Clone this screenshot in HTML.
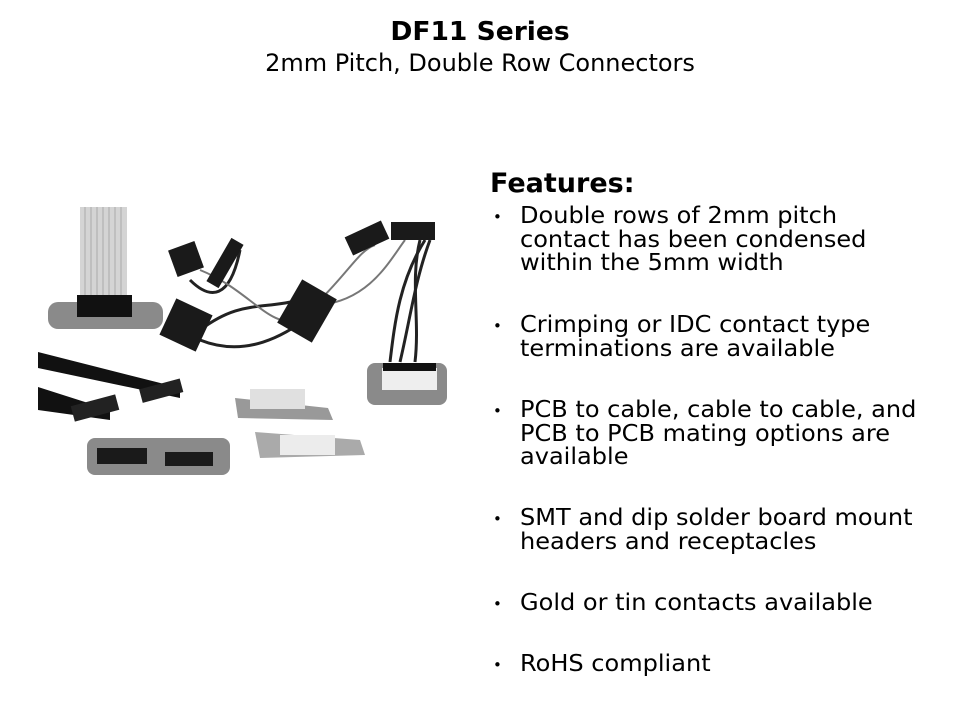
<!DOCTYPE html>
<html><head><style>
body{margin:0;width:960px;height:720px;background:#fff;font-family:"DejaVu Sans",sans-serif;color:#000;position:relative;overflow:hidden}
.t{position:absolute;left:0;width:960px;text-align:center;transform-origin:480px 0}
.f{position:absolute;left:490px;top:168px;font-size:27px;font-weight:bold;line-height:32px}
.b{position:absolute;left:520px;font-size:23px;line-height:23.5px;white-space:nowrap;transform:scaleX(1.045);transform-origin:0 0}
.d{position:absolute;left:493px;font-size:15px}
</style></head><body>
<div class="t" style="top:17px;font-size:26px;font-weight:bold;transform:scaleX(1.02)">DF11 Series</div>
<div class="t" style="top:49px;font-size:24px">2mm Pitch, Double Row Connectors</div>
<div class="f">Features:</div>
<div class="d" style="top:208px">•</div><div class="b" style="top:205px">Double rows of 2mm pitch<br>contact has been condensed<br>within the 5mm width</div>
<div class="d" style="top:317px">•</div><div class="b" style="top:314px">Crimping or IDC contact type<br>terminations are available</div>
<div class="d" style="top:402px">•</div><div class="b" style="top:399px">PCB to cable, cable to cable, and<br>PCB to PCB mating options are<br>available</div>
<div class="d" style="top:510px">•</div><div class="b" style="top:507px">SMT and dip solder board mount<br>headers and receptacles</div>
<div class="d" style="top:595px">•</div><div class="b" style="top:592px">Gold or tin contacts available</div>
<div class="d" style="top:656px">•</div><div class="b" style="top:653px">RoHS compliant</div>
<svg style="position:absolute;left:0;top:0" width="480" height="500">
<rect x="80" y="207" width="47" height="92" fill="#d4d4d4"/>
<g stroke="#aaa" stroke-width="1"><line x1="85" y1="207" x2="85" y2="299"/><line x1="91" y1="207" x2="91" y2="299"/><line x1="97" y1="207" x2="97" y2="299"/><line x1="103" y1="207" x2="103" y2="299"/><line x1="109" y1="207" x2="109" y2="299"/><line x1="115" y1="207" x2="115" y2="299"/><line x1="121" y1="207" x2="121" y2="299"/></g>
<rect x="48" y="302" width="115" height="27" rx="10" fill="#8a8a8a"/>
<rect x="77" y="295" width="55" height="22" fill="#111"/>
<path d="M38 352 L180 388 L180 398 L38 368Z" fill="#111"/>
<path d="M38 387 L110 410 L110 420 L38 410Z" fill="#111"/>
<rect x="140" y="384" width="42" height="14" fill="#222" transform="rotate(-15 160 390)"/>
<rect x="72" y="400" width="46" height="16" fill="#222" transform="rotate(-15 95 408)"/>
<rect x="87" y="438" width="143" height="37" rx="8" fill="#8a8a8a"/>
<rect x="97" y="448" width="50" height="16" fill="#1a1a1a"/>
<rect x="165" y="452" width="48" height="14" fill="#1a1a1a"/>
<path d="M235 398 L328 408 L333 420 L238 418Z" fill="#999"/>
<rect x="250" y="389" width="55" height="20" fill="#e0e0e0"/>
<path d="M255 432 L360 440 L365 455 L260 458Z" fill="#aaa"/>
<rect x="280" y="435" width="55" height="20" fill="#ececec"/>
<rect x="367" y="363" width="80" height="42" rx="8" fill="#8a8a8a"/>
<rect x="382" y="368" width="55" height="22" fill="#eee"/>
<rect x="383" y="363" width="53" height="8" fill="#111"/>
<g fill="none" stroke="#222" stroke-width="3">
<path d="M390 362 C395 320 400 280 425 240"/><path d="M400 362 C410 320 415 280 430 240"/><path d="M415 362 C420 320 410 280 420 240"/>
<path d="M200 340 C250 360 290 330 305 320"/><path d="M200 330 C240 300 260 310 300 300"/>
<path d="M190 280 C210 300 230 300 240 250"/>
</g>
<g fill="none" stroke="#777" stroke-width="2"><path d="M320 300 C350 270 360 250 375 245"/><path d="M320 305 C370 300 390 260 405 240"/><path d="M200 270 C250 290 270 330 300 320"/></g>
<rect x="172" y="245" width="28" height="28" fill="#1a1a1a" transform="rotate(-20 186 259)"/>
<rect x="218" y="238" width="14" height="50" fill="#1a1a1a" transform="rotate(30 225 263)"/>
<rect x="166" y="305" width="40" height="40" fill="#1a1a1a" transform="rotate(25 186 325)"/>
<rect x="287" y="286" width="40" height="50" fill="#1a1a1a" transform="rotate(30 307 311)"/>
<rect x="347" y="228" width="40" height="20" fill="#1a1a1a" transform="rotate(-25 367 238)"/>
<rect x="391" y="222" width="44" height="18" fill="#1a1a1a"/>
</svg>
</body></html>
